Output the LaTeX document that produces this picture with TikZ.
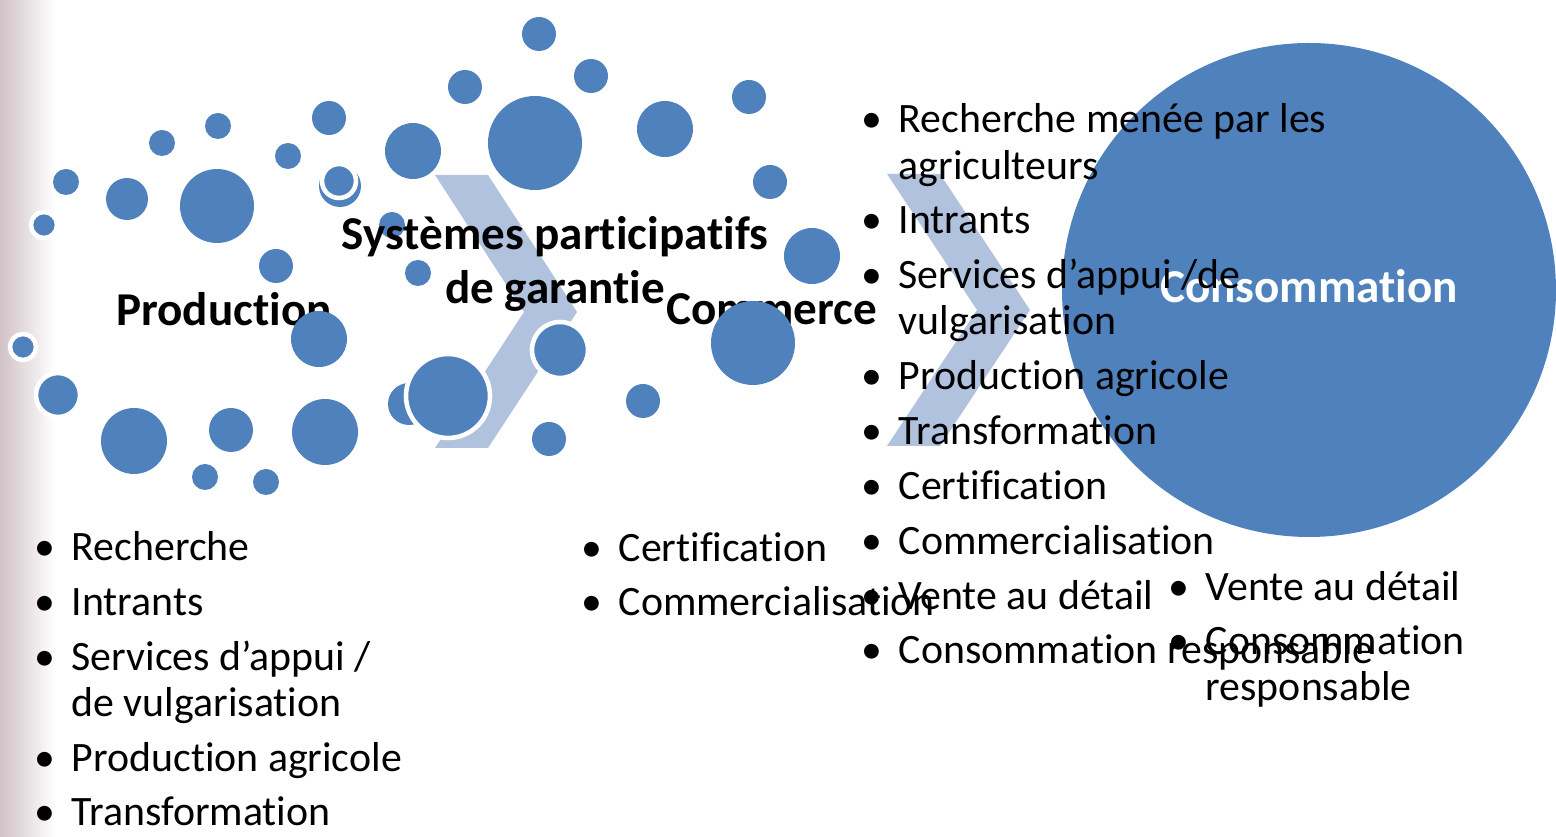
\documentclass[tikz,border=0pt]{standalone}
\usepackage{fontspec}
\setmainfont{Carlito}[Ligatures=NoCommon]

\definecolor{dotblue}{RGB}{79,129,189}
\definecolor{chevblue}{RGB}{176,194,222}
\definecolor{edgepink}{RGB}{208,194,199}

\tikzset{
	dot/.style={fill=dotblue},
	ringdot/.style={fill=dotblue, draw=white, line width=1.3pt},
	stagelabel/.style={font=\fontsize{13.4}{15.4}\selectfont\bfseries, align=center, inner sep=0pt},
	itemlist/.style={font=\fontsize{11.9}{13.1}\selectfont, align=left, anchor=base west, inner sep=0pt},
}
\newcommand{\itm}{\makebox[0.37cm][l]{•}}
\newcommand{\cnt}{\hspace*{0.37cm}}
\newcommand{\gap}{\\[2.5pt]}

\begin{document}
\begin{tikzpicture}[x=0.01cm, y=-0.01cm]
			% Page size (pixels of the slide)
			\useasboundingbox (0,0) rectangle (1556,837);
			\shade[left color=edgepink, right color=white] (0,0) rectangle (55,837); % slide edge

			% Chevrons between the stages
			\fill[chevblue] (435,175) -- (488,175) -- (577,312) -- (488,448)
			-- (435,448) -- (524,312) -- cycle;
			\fill[chevblue] (887,174) -- (940,174) -- (1030,310) -- (940,446)
			-- (887,446) -- (977,310) -- cycle;

			% Last stage: big circle
			\fill[dotblue] (1309,290) circle (247);
			\node[stagelabel, white, anchor=base] (consommation) at (1309,303) {Consommation};

			% Scattered dots
			\foreach \x/\y/\r in {66/182/13, 162/143/13, 218/126/13, 329/118/17,
					288/156/13, 127/199/21, 217/206/37, 276/266/17, 392/225/13,
					418/273/13, 134/441/33, 231/430/22, 325/432/33, 205/477/13,
					266/482/13, 413/151/28, 539/34/17, 465/87/17, 591/76/17,
					535/143/47, 665/129/28, 749/97/17, 770/182/17, 812/256/28,
					643/401/17, 549/439/17, 340/186/21, 409/404/21}
				\fill[dot] (\x,\y) circle (\r);
			\foreach \x/\y/\r in {44/225/13, 23/347/13, 58/395/22, 339/181/17,
					448/396/42, 560/350/28}
				\filldraw[ringdot] (\x,\y) circle (\r);

			% Stage titles (partly hidden by dots)
			\node[stagelabel, anchor=base] (production) at (224,326) {Production};
			\node[stagelabel, anchor=base west] (commerce) at (666,325) {Commerce};
			\fill[dot] (319,339) circle (28);
			\fill[dot] (753,343) circle (42);
			% base of a two-line node = its last line
			\node[stagelabel, anchor=base] (spg) at (555,304) {Systèmes participatifs\\de garantie};

			% Item lists (placed at the baseline of their last line)
			\node[itemlist] (prodlist) at (34,826) {\itm Recherche\gap
				\itm Intrants\gap
				\itm Services d’appui /\\
				\cnt de vulgarisation\gap
				\itm Production agricole\gap
				\itm Transformation};
			\node[itemlist] (spglist) at (581,616) {\itm Certification\gap
				\itm Commercialisation};
			\node[itemlist] (commlist) at (861,664) {\itm Recherche menée par les\\
				\cnt agriculteurs\gap
				\itm Intrants\gap
				\itm Services d’appui /de\\
				\cnt vulgarisation\gap
				\itm Production agricole\gap
				\itm Transformation\gap
				\itm Certification\gap
				\itm Commercialisation\gap
				\itm Vente au détail\gap
				\itm Consommation responsable};
			\node[itemlist] (conslist) at (1168,701) {\itm Vente au détail\gap
				\itm Consommation\\
				\cnt responsable};
		\end{tikzpicture}
\end{document}
